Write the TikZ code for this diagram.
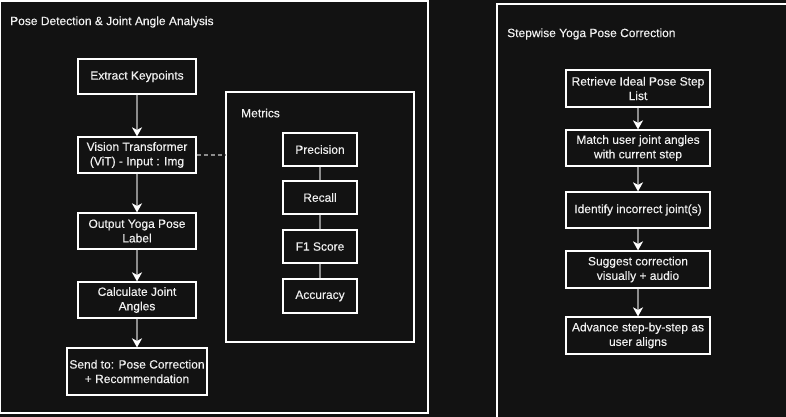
\documentclass[tikz,border=0pt]{standalone}
\usepackage{fontspec}
\setmainfont[FakeBold=0.25]{Liberation Sans}
\usetikzlibrary{arrows.meta}
\definecolor{bg}{HTML}{121212}
\definecolor{txt}{HTML}{F0F0F0}
\definecolor{ln}{HTML}{8C8C8C}
\begin{document}
\begin{tikzpicture}[x=1pt,y=-1pt,
  every node/.style={font=\fontsize{12}{14.5}\selectfont, text=txt},
  box/.style={draw=white, line width=1.2pt, fill=bg, align=center, inner sep=0pt},
  cont/.style={draw=white, line width=1.2pt},
  flow/.style={draw=ln, line width=2pt, -{Stealth[length=9pt,width=10pt,inset=2.5pt,color=white]}},
  link/.style={draw=ln, line width=1.5pt},
  lbl/.style={anchor=west, inner sep=0pt}]
\fill[bg] (0,0) rectangle (786,417);
\useasboundingbox (0,0) rectangle (786,417);
\clip (0,0) rectangle (786,417);
% containers
\draw[cont] (0.8,1) rectangle (428,413);
\draw[cont] (497,4) rectangle (800,430);
\draw[cont] (226,92) rectangle (414,342);
\node[lbl] (t1) at (10,22) {Pose Detection \& Joint Angle Analysis};
\node[lbl] (t2) at (241,113) {Metrics};
\node[lbl] (t3) at (507,34) {Stepwise Yoga Pose Correction};
% left flow
\node[box, minimum width=118pt, minimum height=35pt] (ek) at (137,76.5) {Extract Keypoints};
\node[box, minimum width=118pt, minimum height=36pt] (vit) at (137,155) {Vision Transformer\\(ViT) - Input : Img};
\node[box, minimum width=118pt, minimum height=36pt] (out) at (137,231) {Output Yoga Pose\\Label};
\node[box, minimum width=118pt, minimum height=36pt] (calc) at (137,300) {Calculate Joint\\Angles};
\node[box, minimum width=140pt, minimum height=47pt] (send) at (137,371.5) {Send to: Pose Correction\\+ Recommendation};
\draw[flow] (ek) -- (vit);
\draw[flow] (vit) -- (out);
\draw[flow] (out) -- (calc);
\draw[flow] (calc) -- (send);
% metrics
\coordinate (mleft) at (226,155);
\draw[ln, line width=1.5pt, dash pattern=on 4pt off 3pt] (vit.east) -- (mleft);
\node[box, minimum width=74pt, minimum height=33pt] (prec) at (320,149.5) {Precision};
\node[box, minimum width=74pt, minimum height=33pt] (rec) at (320,197.5) {Recall};
\node[box, minimum width=74pt, minimum height=33pt] (f1) at (320,246.5) {F1 Score};
\node[box, minimum width=74pt, minimum height=34pt] (acc) at (320,296) {Accuracy};
\draw[link] (prec) -- (rec);
\draw[link] (rec) -- (f1);
\draw[link] (f1) -- (acc);
% right flow
\node[box, minimum width=144pt, minimum height=37pt] (retr) at (638,88.5) {Retrieve Ideal Pose Step\\List};
\node[box, minimum width=144pt, minimum height=36pt] (match) at (638,148) {Match user joint angles\\with current step};
\node[box, minimum width=144pt, minimum height=36pt] (ident) at (638,210) {Identify incorrect joint(s)};
\node[box, minimum width=144pt, minimum height=37pt] (sugg) at (638,269.5) {Suggest correction\\visually + audio};
\node[box, minimum width=144pt, minimum height=37pt] (adv) at (638,335.5) {Advance step-by-step as\\user aligns};
\draw[flow] (retr) -- (match);
\draw[flow] (match) -- (ident);
\draw[flow] (ident) -- (sugg);
\draw[flow] (sugg) -- (adv);
\end{tikzpicture}
\end{document}
